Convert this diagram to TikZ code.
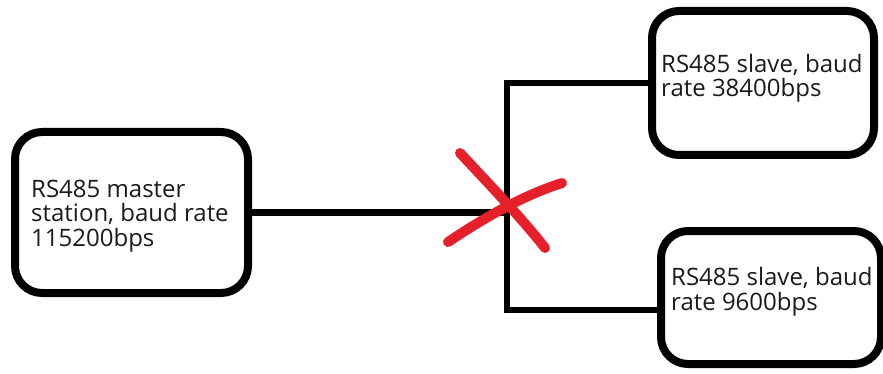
\documentclass[tikz,border=0pt]{standalone}
\usepackage{fontspec}
\setmainfont{Open Sans}
\usetikzlibrary{positioning,calc}
\usepackage{xcolor}
\definecolor{Ink}{HTML}{1A1A1A}
\definecolor{Wire}{HTML}{000000}
\definecolor{Cross}{HTML}{E5202A}

\begin{document}
\begin{tikzpicture}[x=1pt,y=-1pt,
  box/.style={draw=Wire,line width=8pt,rounded corners=27pt,inner sep=0pt},
  lbl/.style={anchor=base west,align=left,inner sep=0pt,text=Ink,
    font=\fontsize{24}{24.5}\selectfont},
  wire/.style={draw=Wire,line width=6.5pt},
  cross/.style={draw=Cross,line width=10pt,line cap=round}]
\useasboundingbox (0,0) rectangle (883,374);
% boxes
\node[box,minimum width=233pt,minimum height=161pt] (master) at (131.5,212.5) {};
\node[box,minimum width=222pt,minimum height=144pt] (slaveA) at (763,83) {};
\node[box,minimum width=220pt,minimum height=133pt] (slaveB) at (771,297.5) {};
% texts (anchored at the baseline of the last line)
\node[lbl] (masterTxt) at (31,246) {RS485 master\\station, baud rate\\115200bps};
\node[lbl] (slaveATxt) at (661,97) {RS485 slave, baud\\rate 38400bps};
\node[lbl] (slaveBTxt) at (671,310) {RS485 slave, baud\\rate 9600bps};
% bus
\coordinate (busTop) at (507,83);
\coordinate (busBot) at (507,310);
\draw[wire] (master.east) -- (master.east -| busTop);
\draw[wire] (slaveA.west) -- (busTop) -- (busBot) -- (busBot -| slaveB.west);
% red cross
\draw[cross] (460,153) .. controls (490,185) and (525,222) .. (545,248);
\draw[cross] (448,242) .. controls (490,214) and (525,195) .. (562,183);
\end{tikzpicture}
\end{document}
